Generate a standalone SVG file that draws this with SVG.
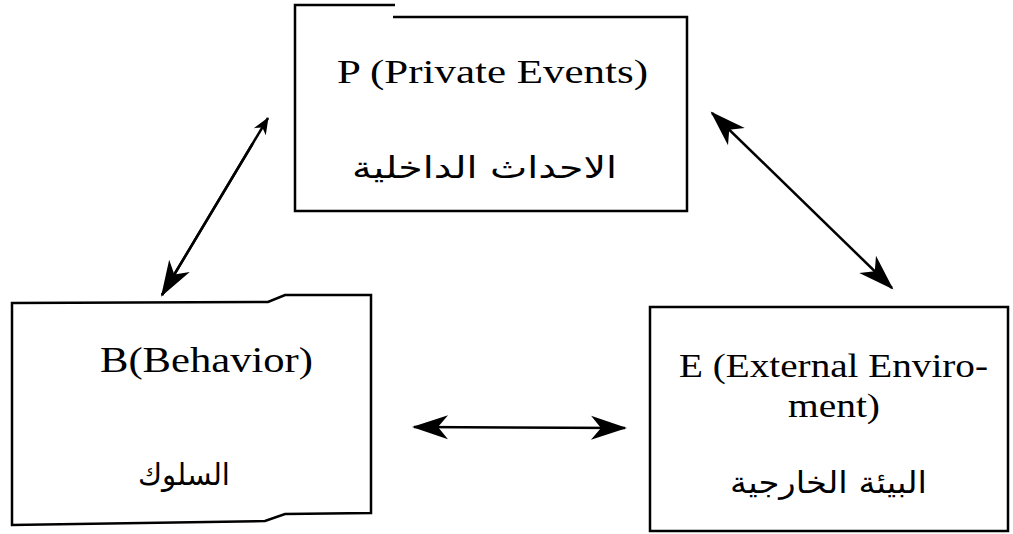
<svg xmlns="http://www.w3.org/2000/svg" width="1013" height="534" viewBox="0 0 1013 534">
<style>
.box{fill:none;stroke:#000;stroke-width:2.5;stroke-linejoin:miter}
.lat{font-family:"Liberation Serif","Times New Roman",serif;fill:#000}
.ar{font-family:"DejaVu Sans","Noto Sans",sans-serif;fill:#000}
.conn{fill:none;stroke:#000;stroke-width:2.5}
</style>
<defs>
<marker id="ah" viewBox="-36 -14 40 28" markerWidth="40" markerHeight="28" refX="0" refY="0" markerUnits="userSpaceOnUse" orient="auto-start-reverse">
<path d="M2,0 L-34,-12 L-24,0 L-34,12 Z" fill="#000"/>
</marker>
<marker id="ahs" viewBox="-20 -10 24 20" markerWidth="24" markerHeight="20" refX="0" refY="0" markerUnits="userSpaceOnUse" orient="auto-start-reverse">
<path d="M1,0 L-16,-7 L-11,0 L-16,7 Z" fill="#000"/>
</marker>
</defs>
<rect width="1013" height="534" fill="#fff"/>
<g id="nodeP">
<path class="box" d="M395,5 L295,5 L295,211 L687,211 L687,17 L393,17"/>
<text class="lat" x="337" y="83" font-size="34" textLength="311" lengthAdjust="spacingAndGlyphs">P (Private Events)</text>
<text class="ar" x="352" y="178" font-size="30" textLength="265" lengthAdjust="spacingAndGlyphs">الاحداث الداخلية</text>
</g>
<g id="nodeB">
<path class="box" d="M12,303 L268,302 L285,295 L371,295 L371,513 L285,514 L265,521 L12,525 Z"/>
<text class="lat" x="100" y="372" font-size="35" textLength="213" lengthAdjust="spacingAndGlyphs">B(Behavior)</text>
<text class="ar" x="138" y="485" font-size="30" textLength="92" lengthAdjust="spacingAndGlyphs">السلوك</text>
</g>
<g id="nodeE">
<rect class="box" x="650" y="307" width="358" height="224"/>
<text class="lat" x="679" y="377" font-size="33" textLength="309" lengthAdjust="spacingAndGlyphs">E (External Enviro-</text>
<text class="lat" x="788" y="417" font-size="33" textLength="92" lengthAdjust="spacingAndGlyphs">ment)</text>
<text class="ar" x="730" y="493" font-size="30" textLength="197" lengthAdjust="spacingAndGlyphs">البيئة الخارجية</text>
</g>
<g id="connectors">
<path class="conn" d="M268,118 L162,295" stroke-dasharray="0 30 400" marker-start="url(#ahs)"/>
<path class="conn" d="M268,118 L162,295" stroke="none" marker-end="url(#ah)"/>
<path class="conn" d="M712,113 L892,288" marker-start="url(#ah)" marker-end="url(#ah)"/>
<path class="conn" d="M414,427 L625,428" marker-start="url(#ah)" marker-end="url(#ah)"/>
</g>
</svg>
